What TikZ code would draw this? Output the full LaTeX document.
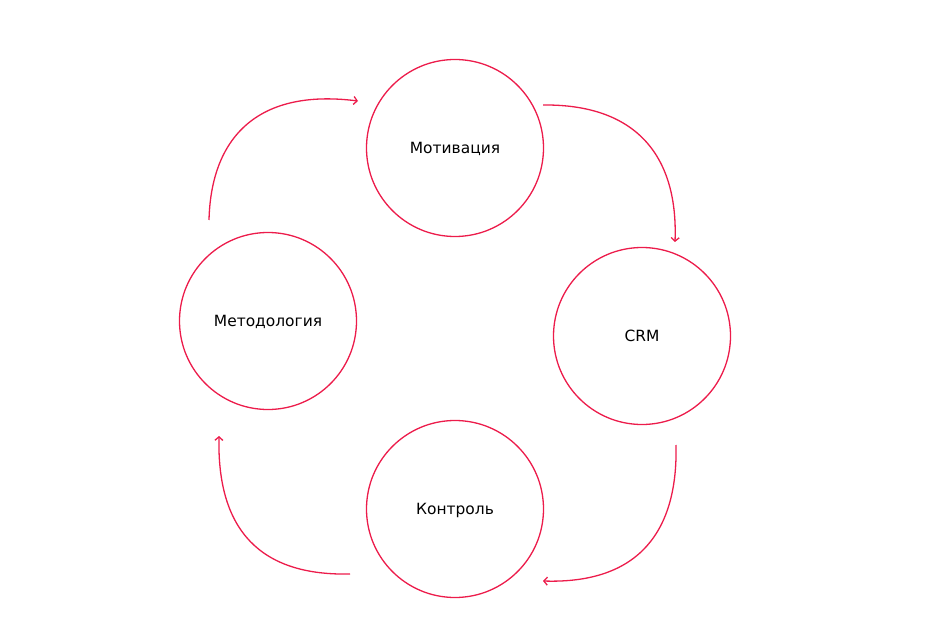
\documentclass[tikz,border=0pt]{standalone}
\usepackage{fontspec}
\setmainfont{DejaVu Sans}
\usetikzlibrary{arrows.meta, positioning}
\definecolor{cyRed}{HTML}{EC1C4B}
\tikzset{
  % stage circles and the thin arcs between them
  every picture/.append style = {x=1bp, y=-1bp, line width=1.3bp},
  stage/.style  = {circle, draw=cyRed, minimum size=177bp, inner sep=0pt,
                   text depth=0pt, font=\fontsize{15.5}{18}\selectfont},
  cycarc/.style = {cyRed, -{Straight Barb[length=3.5bp, width=8bp]}},
}

\begin{document}
\begin{tikzpicture}
  \useasboundingbox (0,0) rectangle (937,633);
  % stages
  \node[stage] (motiv) at (455,148) {Мотивация};
  \node[stage] (crm)   at (642,336) {CRM};
  \node[stage] (ctrl)  at (455,509) {Контроль};
  \node[stage] (meth)  at (268,321) {Методология};
  % arc ends
  \coordinate (a1s) at (209,220);  \coordinate (a1e) at (358,101);
  \coordinate (a2s) at (543,105);  \coordinate (a2e) at (675,242);
  \coordinate (a3s) at (676,445);  \coordinate (a3e) at (543,581);
  \coordinate (a4s) at (350,574);  \coordinate (a4e) at (219,436);
  % cycle
  \draw[cycarc] (a1s) .. controls (211,140) and (255,88) .. (a1e);
  \draw[cycarc] (a2s) .. controls (640,104) and (678,160) .. (a2e);
  \draw[cycarc] (a3s) .. controls (678,530) and (640,584) .. (a3e);
  \draw[cycarc] (a4s) .. controls (260,576) and (217,530) .. (a4e);
\end{tikzpicture}
\end{document}
